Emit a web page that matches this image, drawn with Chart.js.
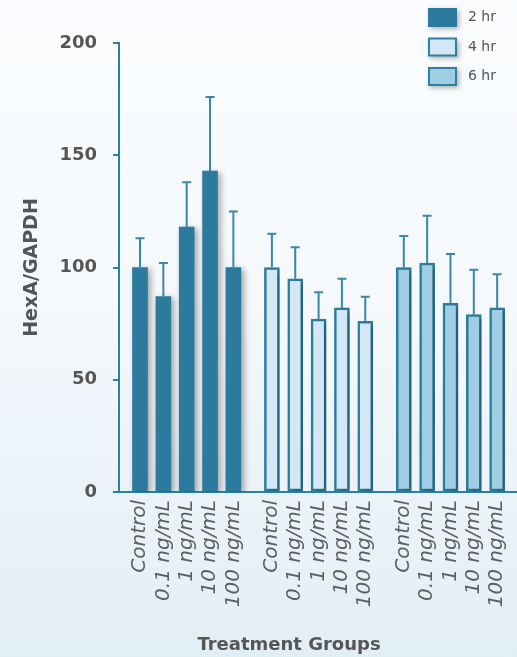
<!DOCTYPE html>
<html>
<head>
<meta charset="utf-8">
<script src="https://cdn.jsdelivr.net/npm/chart.js@4.4.0/dist/chart.umd.min.js"></script>
<style>
  html, body { margin: 0; padding: 0; }
  body {
    width: 517px; height: 657px; overflow: hidden;
    background: linear-gradient(to bottom, #fafcfe 0%, #f5f9fc 45%, #e2eef5 100%);
  }
  canvas { display: block; }
</style>
</head>
<body>
<canvas id="chart" width="517" height="657"></canvas>
<script>
// Treatment groups (repeated for each time point) and series names
const treatments = ['Control', '0.1 ng/mL', '1 ng/mL', '10 ng/mL', '100 ng/mL'];
const seriesNames = ['2 hr', '4 hr', '6 hr'];

// HexA/GAPDH means and upper error (SD) per time point
const hr2Values = [100, 87, 118, 143, 100];
const hr2Errors = [13, 15, 20, 33, 25];
const hr4Values = [100, 95, 77, 82, 76];
const hr4Errors = [15, 14, 12, 13, 11];
const hr6Values = [100, 102, 84, 79, 82];
const hr6Errors = [14, 21, 22, 20, 15];

const yTicks = [0, 50, 100, 150, 200];

// Each time point is drawn as a cluster of five bars; clusters are spaced apart
const CLUSTER_STRIDE = 5.65;
const clusterPos = (k, i) => k * CLUSTER_STRIDE + i;
const tickPositions = [];
const tickLabels = [];
seriesNames.forEach((_, k) => treatments.forEach((t, i) => {
  tickPositions.push(clusterPos(k, i));
  tickLabels.push(t);
}));

const FONT = 'DejaVu Sans';
const AXIS_BLUE = '#2f7fa2';
const TEXT_GREY = '#555555';

function makeSeries(k, values, errors, fill, border, bw) {
  return {
    label: seriesNames[k],
    data: values.map((v, i) => ({ x: clusterPos(k, i), y: v })),
    errors: errors,
    backgroundColor: fill,
    borderColor: border,
    borderWidth: bw,
    borderSkipped: false,
    grouped: false,
    barThickness: 15
  };
}

// Soft drop shadow beneath the bars
const barShadow = {
  id: 'barShadow',
  beforeDatasetsDraw(chart) {
    const c = chart.ctx;
    c.save();
    c.shadowColor = 'rgba(0,0,0,0.33)';
    c.shadowBlur = 6;
    c.shadowOffsetX = 3;
    c.shadowOffsetY = 2;
  },
  afterDatasetsDraw(chart) { chart.ctx.restore(); }
};

// Upward-only error bars with a cap
const errorBars = {
  id: 'errorBars',
  afterDatasetsDraw(chart) {
    const c = chart.ctx;
    const yScale = chart.scales.y;
    c.save();
    c.strokeStyle = '#3a87aa';
    c.lineWidth = 2;
    chart.data.datasets.forEach((ds, di) => {
      chart.getDatasetMeta(di).data.forEach((bar, i) => {
        const v = ds.data[i].y;
        const top = yScale.getPixelForValue(v + ds.errors[i]);
        const base = yScale.getPixelForValue(v);
        c.beginPath();
        c.moveTo(bar.x, base);
        c.lineTo(bar.x, top);
        c.moveTo(bar.x - 4.5, top);
        c.lineTo(bar.x + 4.5, top);
        c.stroke();
      });
    });
    c.restore();
  }
};

// Stacked legend boxes in the top-right corner
const boxLegend = {
  id: 'boxLegend',
  afterDraw(chart, args, opts) {
    const c = chart.ctx;
    chart.data.datasets.forEach((ds, i) => {
      const x = opts.x, y = opts.y + i * opts.step;
      c.save();
      c.shadowColor = 'rgba(0,0,0,0.3)';
      c.shadowBlur = 5;
      c.shadowOffsetX = 2;
      c.shadowOffsetY = 2;
      c.fillStyle = ds.borderColor;
      c.fillRect(x, y, opts.w, opts.h);
      c.restore();
      if (ds.borderWidth) {
        c.fillStyle = ds.backgroundColor;
        c.fillRect(x + 2, y + 2, opts.w - 4, opts.h - 4);
      }
      c.save();
      c.fillStyle = TEXT_GREY;
      c.font = '14px "' + FONT + '"';
      c.textAlign = 'left';
      c.textBaseline = 'middle';
      c.fillText(ds.label, x + opts.w + 11, y + opts.h / 2);
      c.restore();
    });
  }
};

// Horizontal axis title
const xTitle = {
  id: 'xTitle',
  afterDraw(chart, args, opts) {
    const c = chart.ctx;
    c.save();
    c.fillStyle = TEXT_GREY;
    c.font = 'bold 18px "' + FONT + '"';
    c.textAlign = 'center';
    c.textBaseline = 'middle';
    c.fillText(opts.text, chart.chartArea.left + opts.dx, opts.y);
    c.restore();
  }
};

new Chart(document.getElementById('chart'), {
  type: 'bar',
  data: {
    datasets: [
      makeSeries(0, hr2Values, hr2Errors, '#2c7a9e', '#2c7a9e', 0),
      makeSeries(1, hr4Values, hr4Errors, '#d3e8f4', AXIS_BLUE, 2.5),
      makeSeries(2, hr6Values, hr6Errors, '#9fcde4', AXIS_BLUE, 2.5)
    ]
  },
  options: {
    responsive: false,
    animation: false,
    layout: { padding: { left: 10, top: 43, right: 0, bottom: 0 } },
    plugins: {
      legend: { display: false },
      tooltip: { enabled: false },
      boxLegend: { x: 428, y: 8, step: 29.5, w: 29, h: 19 },
      xTitle: { text: 'Treatment Groups', dx: 170, y: 645 }
    },
    scales: {
      x: {
        type: 'linear',
        min: -0.9,
        max: 16.15,
        offset: false,
        afterBuildTicks: s => { s.ticks = tickPositions.map(v => ({ value: v })); },
        afterFit: s => { s.height = 165; s.paddingLeft = 0; s.paddingRight = 0; },
        grid: { display: false, drawTicks: false },
        border: { display: true, color: AXIS_BLUE, width: 2 },
        ticks: {
          autoSkip: false,
          minRotation: 90,
          maxRotation: 90,
          padding: 8,
          color: '#5e5e5e',
          font: { family: FONT, size: 20, style: 'italic' },
          callback: (v, i) => tickLabels[i]
        }
      },
      y: {
        min: 0,
        max: 200,
        afterBuildTicks: s => { s.ticks = yTicks.map(v => ({ value: v })); },
        afterFit: s => { s.width = 109; },
        grid: { drawOnChartArea: false, drawTicks: true, tickLength: 6, color: AXIS_BLUE, lineWidth: 2 },
        border: { display: true, color: AXIS_BLUE, width: 2 },
        ticks: {
          padding: 16,
          color: TEXT_GREY,
          font: { family: FONT, size: 18, weight: 'bold' }
        },
        title: {
          display: true,
          text: 'HexA/GAPDH',
          color: TEXT_GREY,
          font: { family: FONT, size: 19, weight: 'bold' },
          padding: { top: 11, bottom: 0 }
        }
      }
    }
  },
  plugins: [barShadow, errorBars, boxLegend, xTitle]
});
</script>
</body>
</html>
